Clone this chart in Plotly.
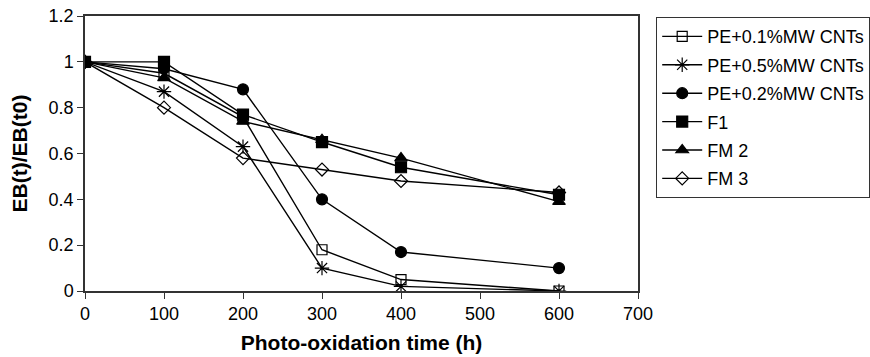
import plotly.graph_objects as go

time_h = [0, 100, 200, 300, 400, 600]
series_names = ["PE+0.1%MW CNTs", "PE+0.5%MW CNTs", "PE+0.2%MW CNTs", "F1", "FM 2", "FM 3"]
pe01 = [1.0, 0.95, 0.76, 0.18, 0.05, 0.0]
pe05 = [1.0, 0.87, 0.63, 0.10, 0.02, 0.0]
pe02 = [1.0, 0.97, 0.88, 0.40, 0.17, 0.10]
f1 = [1.0, 1.0, 0.77, 0.65, 0.54, 0.42]
fm2 = [1.0, 0.93, 0.74, 0.66, 0.58, 0.39]
fm3 = [1.0, 0.80, 0.58, 0.53, 0.48, 0.43]

x_ticks = [0, 100, 200, 300, 400, 500, 600, 700]
y_ticks = [0, 0.2, 0.4, 0.6, 0.8, 1.0, 1.2]
y_tick_labels = ["0", "0.2", "0.4", "0.6", "0.8", "1", "1.2"]

values = [pe01, pe05, pe02, f1, fm2, fm3]
symbols = ["square-open", "asterisk-open", "circle", "square", "triangle-up", "diamond-open"]
sizes = [10, 12, 11, 11, 11, 10]

fig = go.Figure()
for i, (name, vals) in enumerate(zip(series_names, values)):
    fig.add_trace(go.Scatter(
        x=time_h, y=vals, name=name, mode="lines+markers",
        legendgroup=f"g{i}",
        line=dict(color="black", width=1.4),
        marker=dict(symbol=symbols[i], size=sizes[i], color="black",
                    line=dict(color="black", width=1.2)),
    ))

font = "Liberation Sans, Arial, sans-serif"
L, R, T, B = 85, 638, 16, 291
fig.update_layout(
    width=870, height=357,
    margin=dict(l=L, r=870 - R, t=T, b=357 - B, autoexpand=False),
    paper_bgcolor="white", plot_bgcolor="white",
    font=dict(family=font, size=18, color="black"),
    xaxis=dict(range=[0, 700], tickvals=x_ticks, ticks="outside", ticklen=6,
               tickcolor="#333", linecolor="#333", linewidth=1.5, mirror=True,
               showgrid=False, zeroline=False,
               title=dict(text="<b>Photo-oxidation time (h)</b>", font=dict(size=21), standoff=12),
               tickfont=dict(size=18)),
    yaxis=dict(range=[0, 1.2], tickvals=y_ticks, ticktext=y_tick_labels, ticks="outside",
               ticklen=6, tickcolor="#333", linecolor="#333", linewidth=1.5, mirror=True,
               showgrid=False, zeroline=False,
               title=dict(text="<b>EB(t)/EB(t0)</b>", font=dict(size=21), standoff=15),
               tickfont=dict(size=18)),
    legend=dict(x=(656 - L) / (R - L), xref="paper", y=1 + (T - 17) / (B - T),
                yanchor="top", xanchor="left", itemwidth=40,
                bordercolor="#333", borderwidth=1.2, bgcolor="white",
                font=dict(size=18), tracegroupgap=2, traceorder="grouped"),
    showlegend=True,
)
fig.write_html("out.html")
